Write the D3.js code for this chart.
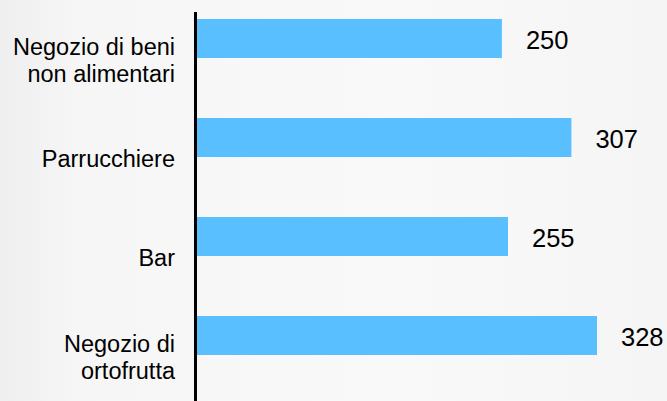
<!DOCTYPE html>
<html>
<head>
<meta charset="utf-8">
<script src="https://cdn.jsdelivr.net/npm/d3@7"></script>
<style>
  html, body { margin: 0; padding: 0; background: #f7f7f7; }
  svg { display: block; }
  text { font-family: "Liberation Sans", Arial, sans-serif; fill: #000; }
</style>
</head>
<body>
<svg id="chart" width="667" height="401"></svg>
<script>
// Data
const categories = [
  ["Negozio di beni", "non alimentari"],
  ["Parrucchiere"],
  ["Bar"],
  ["Negozio di", "ortofrutta"]
];
const categoryKeys = ["Negozio di beni non alimentari", "Parrucchiere", "Bar", "Negozio di ortofrutta"];
const values = [250, 307, 255, 328];

const W = 667, H = 401;
const svg = d3.select("#chart");

// Background (light whitewashed wood look)
const defs = svg.append("defs");
const grad = defs.append("linearGradient").attr("id", "bg").attr("x1", 0).attr("x2", 1).attr("y1", 0).attr("y2", 0);
grad.append("stop").attr("offset", "0%").attr("stop-color", "#efefef");
grad.append("stop").attr("offset", "12%").attr("stop-color", "#f6f6f6");
grad.append("stop").attr("offset", "60%").attr("stop-color", "#f9f9f9");
grad.append("stop").attr("offset", "100%").attr("stop-color", "#f5f5f5");
svg.append("rect").attr("width", W).attr("height", H).attr("fill", "url(#bg)");

// Scales
const y = d3.scaleBand().domain(categoryKeys).range([10, 406]).padding(0);
const sub = d3.scaleBand().domain(["valore", "vuoto"]).range([0, y.bandwidth()])
  .paddingInner(3 / 42).paddingOuter(9 / 42);
const x = d3.scaleLinear().domain([0, 328]).range([197, 597]);

// Bars
svg.append("g").selectAll("rect")
  .data(values)
  .join("rect")
  .attr("x", x(0))
  .attr("y", (d, i) => y(categoryKeys[i]) + sub("valore"))
  .attr("width", d => x(d) - x(0))
  .attr("height", sub.bandwidth())
  .attr("fill", "#59bfff");

// Value labels
svg.append("g").selectAll("text")
  .data(values)
  .join("text")
  .attr("x", d => x(d) + 24)
  .attr("y", (d, i) => y(categoryKeys[i]) + sub("valore") + sub.bandwidth() / 2 + 10)
  .attr("font-size", "25.5px")
  .text(d => d);

// Category axis (left)
const axis = d3.axisLeft(y).tickSize(0).tickFormat("");
const gAxis = svg.append("g").attr("transform", "translate(195.5,0)").call(axis);
gAxis.select(".domain").attr("stroke", "#000").attr("stroke-width", 3).attr("d", `M0,${12}V${406}`);

// Category labels (multi-line)
const lineH = 27;
const labels = svg.append("g").selectAll("text")
  .data(categories)
  .join("text")
  .attr("text-anchor", "end")
  .attr("font-size", "23.5px");
labels.each(function(lines, i) {
  const c = y(categoryKeys[i]) + y.bandwidth() / 2;
  d3.select(this).selectAll("tspan")
    .data(lines)
    .join("tspan")
    .attr("x", 175)
    .attr("y", (l, j) => c + 8.5 + (j - (lines.length - 1) / 2) * lineH)
    .text(l => l);
});
</script>
</body>
</html>
